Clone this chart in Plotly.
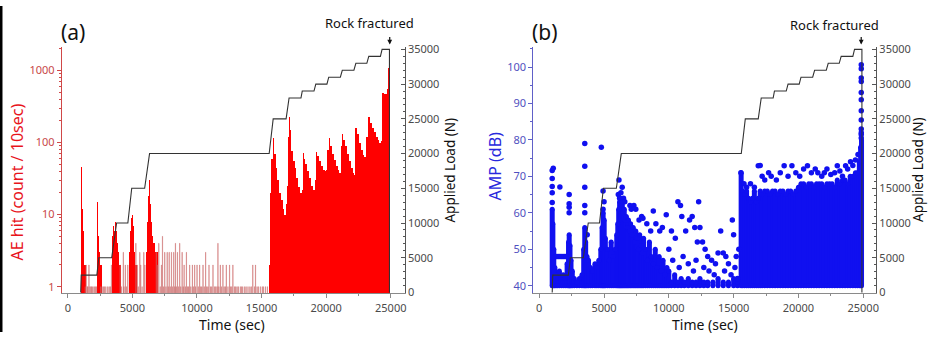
import numpy as np
import plotly.graph_objects as go

# ---------------- data ----------------
# applied load (N) vs time (sec)
load_t = [1000, 1040, 2250, 2400, 3400, 3780, 4650, 4950, 5950, 6330, 15590, 15900, 16900, 17130,
          18050, 18150, 19060, 19200, 20060, 20200, 21100, 21250, 22150, 22300, 23150, 23300,
          24200, 24330, 24900, 24900]
load_n = [0, 2500, 2500, 5000, 5000, 10000, 10000, 15000, 15000, 20000, 20000, 25000, 25000, 28000,
          28000, 29000, 29000, 30000, 30000, 31000, 31000, 32000, 32000, 33000, 33000, 34000,
          34000, 35000, 35000, 0]

# AE hit bursts (count / 10 sec), read as envelope points
ae_t = [1040, 1060, 1090, 1120, 1160, 1220, 1280,
        2270, 2300, 2330, 2370, 2420, 2470,
        3400, 3450, 3500, 3560, 3630, 3700, 3760, 3830, 3900, 3970,
        4760, 4830, 4890, 4950, 5020, 5090, 5160, 5230,
        6050, 6120, 6190, 6250, 6300, 6360, 6440, 6530, 6620, 6720, 6800,
        15600, 15650, 15750, 15850, 15920, 16000, 16100, 16200, 16350, 16500, 16650, 16770, 16900,
        17000, 17080, 17110, 17180, 17280, 17400, 17550, 17700, 17850, 18000, 18100, 18184, 18250,
        18400, 18550, 18700, 18850, 18956, 19100, 19213, 19300, 19450, 19600, 19750, 19900, 19984,
        20100, 20190, 20300, 20450, 20600, 20750, 20900, 21013, 21150, 21193, 21300, 21450, 21600,
        21750, 21900, 22050, 22119, 22200, 22248, 22400, 22550, 22700, 22850, 22942, 23100, 23251,
        23400, 23550, 23700, 23850, 24000, 24100, 24228, 24300, 24357, 24450, 24614, 24700, 24790]
ae_c = [3, 46, 30, 12, 6, 3, 2,
        4, 15, 9, 5, 3, 2,
        3, 5, 7, 6, 8, 9, 6, 4, 3, 2,
        3, 6, 9, 10, 7, 5, 3, 2,
        3, 8, 18, 46, 30, 14, 8, 5, 4, 3, 3,
        2, 20, 60, 90, 116, 70, 45, 30, 20, 16, 12, 10, 14,
        25, 120, 227, 150, 77, 55, 45, 32, 24, 20, 22, 71, 60,
        50, 40, 32, 25, 22, 30, 75, 65, 55, 48, 42, 40, 42,
        80, 116, 90, 70, 58, 48, 42, 38, 90, 131, 110, 90, 70,
        55, 45, 38, 36, 110, 158, 130, 100, 80, 68, 63, 120, 227,
        190, 160, 140, 120, 108, 100, 105, 350, 490, 470, 480, 560, 1070]

# isolated AE hit bins
spike_t = [1350, 1420, 1500, 1560, 1640, 1720, 1800, 1870, 1950, 2050, 2150, 2220,
           2550, 2650, 2750, 2850, 2950, 3100, 3200, 3300, 3380,
           4050, 4150, 4295, 4350, 4450, 4550, 4650,
           5273, 5380, 5450, 5580, 5650, 5750, 5890, 5970,
           6850, 6950, 7050, 7150, 7250, 7330, 7420, 7510, 7600, 7690, 7770, 7845, 7930, 8025,
           8100, 8205, 8280, 8333, 8400, 8488, 8570, 8668, 8750, 8848, 8930, 9002, 9100, 9182,
           9280, 9350, 9439, 9530, 9645, 9720, 9825, 9900, 10005, 10100, 10211, 10300, 10380,
           10468, 10560, 10674, 10760, 10850, 10931, 11050, 11150, 11240, 11350, 11450, 11550,
           11625, 11700, 11805, 11900, 12011, 12100, 12200, 12268, 12400, 12526, 12600, 12700,
           12783, 12900, 13000, 13100, 13200, 13350, 13450, 13550, 13700, 13800, 13950, 14100,
           14200, 14326, 14450, 14532, 14650, 14750, 14900, 15050, 15150, 15300, 15450]
spike_c = [1, 2, 1, 1, 2, 1, 1, 1, 1, 1, 1, 1,
           1, 1, 1, 1, 1, 1, 1, 1, 2,
           2, 1, 3, 1, 2, 1, 2,
           4, 2, 1, 3, 2, 1, 3, 2,
           3, 2, 4, 1, 2, 5, 1, 3, 1, 3, 1, 3, 1, 3,
           1, 3, 1, 4, 1, 3, 1, 4, 1, 3, 1, 2, 1, 3,
           1, 1, 2, 1, 2, 1, 2, 1, 2, 1, 2, 1, 1,
           2, 1, 3, 1, 1, 2, 1, 1, 2, 1, 1, 1,
           4, 1, 2, 1, 2, 1, 1, 2, 1, 2, 1, 1,
           2, 1, 1, 1, 1, 1, 1, 1, 1, 1, 1, 1,
           1, 2, 1, 2, 1, 1, 1, 1, 1, 1, 1]

# AMP (dB): solid columns of hits (time, lowest dB, highest dB)
col_t = [1000, 1050, 1120, 1200, 1300, 1420, 1550, 1700, 1850, 2000,
         2150, 2260, 2310, 2370, 2450, 2550, 2700, 2900, 3100, 3300,
         3430, 3510, 3580, 3680, 3800, 3950, 4100, 4300, 4450, 4600,
         4750, 4850, 4930, 5010, 5100, 5250, 5400, 5550, 5700, 5850, 5980,
         6060, 6130, 6200, 6270, 6340, 6410, 6480, 6560, 6640, 6720, 6800, 6880, 6960,
         7050, 7150, 7250, 7350, 7450, 7550, 7650, 7750, 7850, 7950,
         8050, 8200, 8350, 8500, 8650, 8800, 8950, 9100, 9250, 9400, 9550, 9700, 9850,
         10000, 10200, 10450, 10700, 10950, 11200, 11500, 11800, 12100, 12400, 12700,
         13000, 13400, 13800, 14200, 14600, 15000, 15300]
col_lo = [40] * len(col_t)
col_hi = [61, 57, 50, 45, 43, 42, 44, 42, 43, 42,
          46, 52, 54, 51, 47, 44, 42, 41, 42, 43,
          50, 56, 52, 48, 47, 45, 44, 46, 45, 47,
          50, 56, 60, 58, 53, 50, 47, 52, 48, 50, 54,
          57, 61, 63, 64, 62, 63, 60, 61, 58, 59, 56, 58, 55,
          57, 54, 56, 52, 55, 53, 50, 54, 51, 49,
          53, 50, 47, 52, 48, 46, 50, 45, 48, 44, 47, 43, 45,
          44, 41, 43, 41, 42, 41, 42, 41, 41, 42, 41,
          41, 41, 42, 41, 41, 42, 41]

# AMP (dB): dense hits after 15500 s (upper edge)
late_t = [15580, 15700, 15850, 16000, 16150, 16300, 16450, 16600, 16750, 16900,
          17050, 17200, 17400, 17600, 17800, 18000, 18200, 18400, 18600, 18800,
          19000, 19200, 19400, 19600, 19800, 20000, 20200, 20400, 20600, 20800,
          21000, 21200, 21400, 21600, 21800, 22000, 22200, 22400, 22600, 22800,
          23000, 23200, 23400, 23600, 23800, 24000, 24200, 24400, 24550, 24700,
          24800, 24870]
late_hi = [71, 66, 65, 66, 64, 63, 64, 66, 63, 64,
           66, 65, 66, 66, 65, 66, 66, 65, 66, 66,
           65, 66, 66, 65, 66, 67, 68, 68, 67, 68,
           68, 67, 68, 68, 68, 67, 68, 68, 68, 67,
           69, 68, 69, 69, 68, 70, 70, 71, 71, 74,
           78, 80]

# AMP (dB): isolated hits
pt_t = [1000, 1000, 1000, 1000, 1000, 1080, 1250, 1350, 1450, 1550, 1590, 1650, 1750, 1850, 1950,
        2050, 2150, 2308, 2308, 2308, 2308, 3513, 3513, 3513, 3513, 3513, 3700, 4923, 4923, 5000,
        4790, 6100, 6150, 6300, 6400, 6200, 6500, 6600, 7000, 7100, 7300, 7450, 7700, 7900, 8000,
        8300, 8600, 8800, 9000, 9300, 9500, 9800, 10200, 10500, 10700, 10900, 11000, 11300, 11600,
        11800, 12000, 12200, 12300, 12400, 12600, 12800, 13000, 13300, 13600, 13800, 14000, 14200,
        14400, 14600, 14900, 15000, 15200, 15400, 10000, 10300, 10800, 11100, 11500, 11900, 12100,
        12700, 13100, 13500, 14300, 14800, 15100, 15300,
        15560, 15800, 16000, 16300, 16600, 16900, 17050, 17200, 17400, 17700, 17900, 18300, 18600,
        18900, 19200, 19500, 19800, 20100, 20400, 20700, 21000, 21300, 21500, 21800, 22000, 22200,
        22500, 22800, 23000, 23200, 23400, 23640, 23800, 24020, 24200, 24400, 24600,
        24850, 24850, 24850, 24850, 24850, 24850, 24850, 24850, 24850, 24850, 24850, 24850]
pt_v = [62.8, 65.5, 67.2, 69.4, 71.6, 72.2, 48, 48, 48, 48, 67.1, 48, 48, 48, 48,
        48, 48, 60, 61.5, 62.5, 65, 60, 62, 67, 72.8, 79, 54, 61, 66, 63,
        78, 65, 69, 65.5, 67, 64, 64, 63, 62, 61, 62, 61, 58, 59, 58.5,
        57, 55, 60.5, 57, 55, 56, 59.5, 55, 53, 63, 62, 59, 55, 58,
        59, 56, 52, 63, 56, 52, 50, 48, 47, 46, 49, 55, 49,
        48, 46, 58, 54, 48, 50, 50, 47, 45, 48, 46, 44, 47,
        45, 44, 43, 44, 43, 45, 42,
        71, 68, 67, 68, 67, 72.9, 73, 70, 69, 71, 70, 69, 71,
        72.9, 70, 72.9, 71, 70, 72, 72.9, 71, 72, 71, 70, 71, 72,
        70.5, 71, 72.9, 71.5, 70, 72.9, 72, 74, 73, 74.5, 76,
        100.6, 99.5, 97, 96, 93, 91, 88, 85.5, 83, 82, 81.5, 80.5]

x_ticks = [0, 5000, 10000, 15000, 20000, 25000]
load_ticks = [0, 5000, 10000, 15000, 20000, 25000, 30000, 35000]
ae_ticks = [1, 10, 100, 1000]
amp_ticks = [40, 50, 60, 70, 80, 90, 100]

# ---------------- figure ----------------
W, H = 930, 338
def px(x):
    return x / W
def py(y):
    return 1 - y / H

FONT = "Noto Sans"
RED = "#ff0000"
BLUE = "#1010f0"

fig = go.Figure()

# panel (a): AE hits
ae_t_arr = np.array(ae_t, dtype=float)
ae_w = np.minimum(np.diff(ae_t_arr, append=ae_t_arr[-1] + 130), 160)
fig.add_trace(go.Bar(x=ae_t, y=ae_c, width=ae_w, offset=0, marker=dict(color=RED, line=dict(width=0)),
                     xaxis="x", yaxis="y"))
fig.add_trace(go.Bar(x=spike_t, y=spike_c, width=25, offset=-12,
                     marker=dict(color="#ee3c3c", line=dict(color="#c07070", width=0.4)),
                     xaxis="x", yaxis="y"))
fig.add_trace(go.Scatter(x=load_t, y=load_n, mode="lines", line=dict(color="#333333", width=1.1),
                         xaxis="x", yaxis="y2"))

# panel (b): amplitude
cx, cy = [], []
for t, lo, hi in zip(col_t, col_lo, col_hi):
    cx += [t, t, None]
    cy += [lo, hi, None]
for t, hi in zip(late_t, late_hi):
    cx += [t, t, None]
    cy += [40, hi, None]
fig.add_trace(go.Scatter(x=cx, y=cy, mode="lines+markers", line=dict(color=BLUE, width=5),
                         marker=dict(color=BLUE, size=5), xaxis="x2", yaxis="y3"))
fig.add_trace(go.Scatter(x=pt_t, y=pt_v, mode="markers", marker=dict(color=BLUE, size=5.5),
                         xaxis="x2", yaxis="y3"))
fig.add_trace(go.Scatter(x=load_t, y=load_n, mode="lines", line=dict(color="#333333", width=1.1),
                         xaxis="x2", yaxis="y4"))

tickfont = dict(family=FONT, size=11, color="#4a4a4a")
ydom = [py(298), py(43)]

xcommon = dict(showline=True, linecolor="#8a8a8a", linewidth=1, ticks="outside", ticklen=4,
               tickcolor="#8a8a8a", tickvals=x_ticks, ticktext=[str(v) for v in x_ticks],
               tickfont=tickfont, showgrid=False, zeroline=False,
               minor=dict(tickvals=[2500, 7500, 12500, 17500, 22500], ticks="outside", ticklen=2,
                          tickcolor="#8a8a8a"))
loadcommon = dict(side="right", showline=True, linecolor="#555555", linewidth=1, ticks="inside",
                  ticklen=4, tickcolor="#555555", tickvals=load_ticks,
                  ticktext=[str(v) for v in load_ticks], tickfont=tickfont,
                  showgrid=False, zeroline=False, range=[-139, 35278],
                  minor=dict(tickvals=[v for v in range(1000, 35000, 1000) if v % 5000],
                             ticks="inside", ticklen=2, tickcolor="#555555"))

fig.update_layout(
    width=W, height=H, margin=dict(l=0, r=0, t=0, b=0),
    paper_bgcolor="white", plot_bgcolor="white", showlegend=False, barmode="overlay",
    bargap=0,
    xaxis=dict(domain=[px(62), px(406)], range=[-463, 26080], anchor="y", **xcommon),
    yaxis=dict(domain=ydom, type="log", range=[-0.094, 3.321], anchor="x", showline=True,
               linecolor="#d04848", ticks="outside", ticklen=4, tickcolor="#d04848",
               tickvals=ae_ticks, ticktext=[str(v) for v in ae_ticks],
               tickfont=dict(family=FONT, size=11, color="#c84848"), showgrid=False,
               minor=dict(tickvals=[2, 3, 4, 5, 6, 7, 8, 9, 20, 30, 40, 50, 60, 70, 80, 90,
                                    200, 300, 400, 500, 600, 700, 800, 900, 2000],
                          ticks="outside", ticklen=2, tickcolor="#d04848")),
    yaxis2=dict(domain=ydom, overlaying="y", anchor="x", **loadcommon),
    xaxis2=dict(domain=[px(535), px(879)], range=[-462, 26000], anchor="y3", **xcommon),
    yaxis3=dict(domain=ydom, range=[37.88, 105.37], anchor="x2", showline=True,
                linecolor="#6060c8", ticks="outside", ticklen=4, tickcolor="#6060c8",
                tickvals=amp_ticks, ticktext=[str(v) for v in amp_ticks],
                tickfont=dict(family=FONT, size=11, color="#5050c0"),
                showgrid=False, zeroline=False,
                minor=dict(tickvals=[45, 55, 65, 75, 85, 95, 105], ticks="outside", ticklen=2,
                           tickcolor="#6060c8")),
    yaxis4=dict(domain=ydom, overlaying="y3", anchor="x2", **loadcommon),
)

ann = []
def text(x, y, s, size, color="#111111", angle=0):
    ann.append(dict(x=px(x), y=py(y), xref="paper", yref="paper", text=s, showarrow=False,
                    textangle=angle, xanchor="center", yanchor="middle",
                    font=dict(family=FONT, size=size, color=color)))

text(73, 27, "(a)", 21)
text(547, 27, "(b)", 21)
text(371, 18, "Rock fractured", 13)
text(837, 20, "Rock fractured", 13)
text(17, 182, "AE hit (count / 10sec)", 16, "#e8141c", -90)
text(497, 166, "AMP (dB)", 16, "#2828dd", -90)
text(451, 170, "Applied Load (N)", 13.5, "#111111", -90)
text(921, 170, "Applied Load (N)", 13.5, "#111111", -90)
text(233, 330, "Time (sec)", 14)
text(707, 330, "Time (sec)", 14)

for ax_x in (391, 864):
    ann.append(dict(x=px(ax_x), y=py(40), xref="paper", yref="paper", text="", showarrow=True,
                    ax=0, ay=-9, arrowhead=2, arrowsize=0.8, arrowwidth=1.2, arrowcolor="#111111"))

fig.update_layout(annotations=ann,
                  shapes=[dict(type="rect", xref="paper", yref="paper", x0=0, x1=px(2.5), y0=0, y1=1,
                               fillcolor="black", line=dict(width=0))])

fig.write_html("out.html",
               config={"displayModeBar": False, "staticPlot": True},
               post_script="document.body.style.margin='0';document.body.style.overflow='hidden';")
